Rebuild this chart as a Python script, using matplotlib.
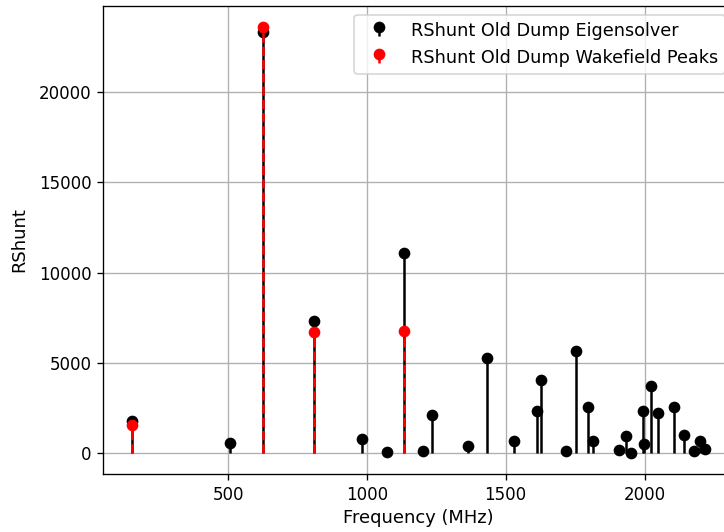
import matplotlib
matplotlib.use("Agg")
import matplotlib.pyplot as plt

# Eigensolver modes: frequency (MHz) and shunt impedance
eigen_freq = [153, 507, 625, 810, 982, 1072, 1132, 1201, 1236, 1366, 1434,
              1531, 1612, 1627, 1718, 1754, 1796, 1814, 1909, 1934, 1952,
              1993, 1998, 2025, 2047, 2107, 2144, 2177, 2201, 2219]
eigen_rshunt = [1770, 550, 23340, 7320, 780, 40, 11070, 70, 2120, 350, 5280,
                650, 2310, 4010, 70, 5640, 2530, 630, 170, 920, 0,
                2290, 500, 3730, 2180, 2530, 1000, 70, 650, 220]

# Peaks picked from the wakefield impedance spectrum
wake_freq = [153, 625, 810, 1132]
wake_rshunt = [1550, 23610, 6690, 6750]

fig = plt.figure(figsize=(724 / 120, 532 / 120), dpi=120)
ax = fig.add_axes([0.1423, 0.109, 0.8715, 0.8797])

ax.stem(eigen_freq, eigen_rshunt, linefmt="k-", markerfmt="ko", basefmt=" ",
        label="RShunt Old Dump Eigensolver")
ax.stem(wake_freq, wake_rshunt, linefmt="r--", markerfmt="ro", basefmt=" ",
        label="RShunt Old Dump Wakefield Peaks")

ax.set_xlabel("Frequency (MHz)", fontsize=10.7, labelpad=3)
ax.set_ylabel("RShunt", fontsize=10.7, labelpad=6)
ax.set_xticks([500, 1000, 1500, 2000])
ax.set_yticks([0, 5000, 10000, 15000, 20000])
ax.grid(True)
ax.legend(loc="upper right", fontsize=10.6)

fig.savefig("out.png", dpi=120)
